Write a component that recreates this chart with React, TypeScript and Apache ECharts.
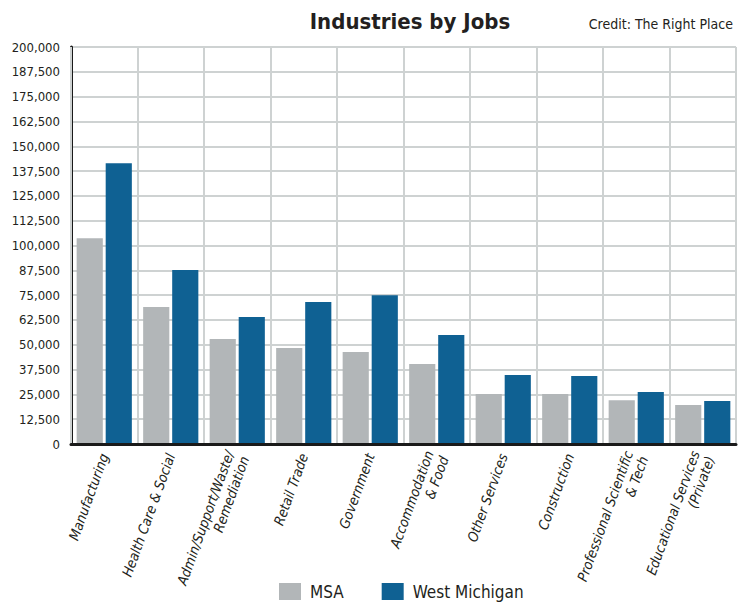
import React, { useEffect, useRef } from "react";
import * as echarts from "echarts";

const categories = [
  "Manufacturing",
  "Health Care & Social",
  "Admin/Support/Waste/\nRemediation",
  "Retail Trade",
  "Government",
  "Accommodation\n& Food",
  "Other Services",
  "Construction",
  "Professional Scientific\n& Tech",
  "Educational Services\n(Private)",
];

const msaValues = [103600, 69000, 52900, 48300, 46300, 40300, 25200, 25200, 22100, 19600];
const westMichiganValues = [141400, 87700, 64000, 71500, 75000, 54900, 34700, 34200, 26200, 21600];

const yTicks = { min: 0, max: 200000, interval: 12500 };

const FONT = "'Liberation Sans Narrow', 'DejaVu Sans Condensed', 'Arial Narrow', sans-serif";
const TEXT = "#231f20";

export default function App() {
  const ref = useRef<HTMLDivElement>(null);
  useEffect(() => {
    if (!ref.current) return;
    const chart = echarts.init(ref.current, undefined, { renderer: "svg" });
    chart.setOption({
      animation: false,
      backgroundColor: "#ffffff",
      title: [
        {
          text: "Industries by Jobs",
          left: 405,
          textAlign: "center",
          top: 5,
          textStyle: { fontFamily: FONT, fontSize: 22, fontWeight: "bold", color: TEXT },
        },
        {
          text: "Credit: The Right Place",
          right: 7,
          top: 12,
          textStyle: { fontFamily: FONT, fontSize: 14, fontWeight: "normal", color: TEXT },
        },
      ],
      legend: {
        top: 583,
        left: 279,
        padding: 0,
        itemWidth: 22,
        itemHeight: 17,
        itemGap: 38,
        icon: "rect",
        textStyle: { fontFamily: FONT, fontSize: 17, color: TEXT, padding: [0, 0, 0, 4] },
        data: ["MSA", "West Michigan"],
      },
      grid: { left: 71, right: 9, top: 47, bottom: 160, containLabel: false },
      xAxis: {
        type: "category",
        data: categories,
        z: 3,
        axisLine: { show: true, lineStyle: { color: "#1a1a1a", width: 3 } },
        axisTick: { show: false },
        splitLine: { show: true, interval: 0, lineStyle: { color: "#ced2d2", width: 2 } },
        axisLabel: {
          interval: 0,
          rotate: 70,
          margin: 10,
          fontFamily: FONT,
          fontStyle: "italic",
          fontSize: 14,
          lineHeight: 16,
          color: TEXT,
        },
      },
      yAxis: {
        type: "value",
        min: yTicks.min,
        max: yTicks.max,
        interval: yTicks.interval,
        axisLine: { show: true, lineStyle: { color: "#1a1a1a", width: 3 } },
        axisTick: { show: false },
        splitLine: { show: true, lineStyle: { color: "#ced2d2", width: 2 } },
        axisLabel: {
          margin: 11,
          fontFamily: FONT,
          fontSize: 13,
          color: TEXT,
          formatter: (v: number) => v.toLocaleString("en-US"),
        },
      },
      series: [
        {
          name: "MSA",
          type: "bar",
          data: msaValues,
          itemStyle: { color: "#b2b6b8" },
          barGap: "11%",
          barCategoryGap: "17%",
        },
        {
          name: "West Michigan",
          type: "bar",
          data: westMichiganValues,
          itemStyle: { color: "#0f6193" },
          barGap: "11%",
          barCategoryGap: "17%",
        },
      ],
    });
    return () => chart.dispose();
  }, []);
  return <div ref={ref} style={{ width: 745, height: 604, position: "absolute", left: 0, top: 0 }} />;
}
